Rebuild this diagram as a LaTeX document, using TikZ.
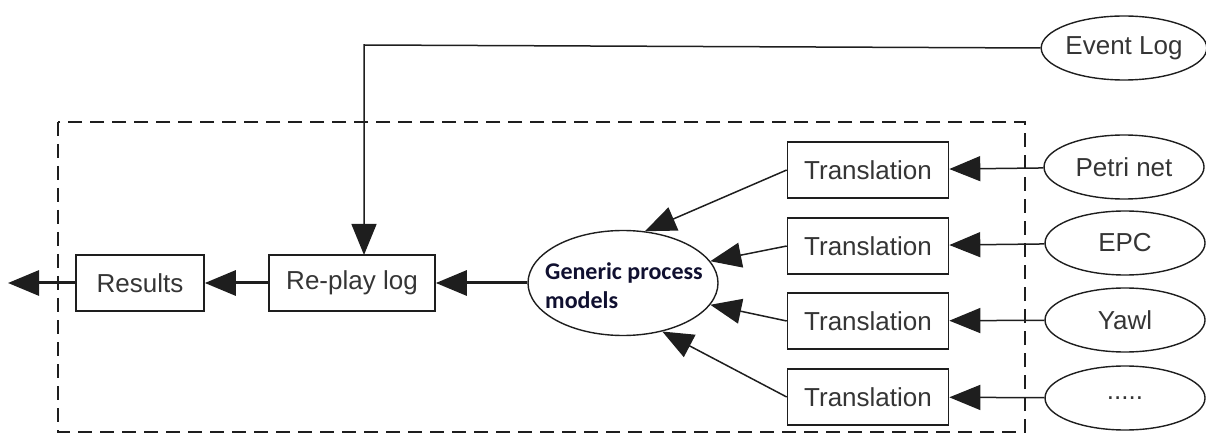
\documentclass[tikz,border=0pt]{standalone}
\usepackage{fontspec}
\setmainfont{Liberation Sans}
\newfontfamily\calib{Carlito}
\usetikzlibrary{arrows.meta,shapes.geometric}
\definecolor{ink}{HTML}{1E1E1E}
\definecolor{navy}{HTML}{101030}
\begin{document}
\begin{tikzpicture}[x=1pt,y=-1pt,
  box/.style={draw=ink,line width=1.6pt,rectangle,inner sep=0pt,
    minimum height=56pt,font=\fontsize{26}{29}\selectfont,text=ink!90},
  oval/.style={draw=ink,line width=1.4pt,ellipse,inner sep=0pt,
    minimum width=160pt,minimum height=64pt,font=\fontsize{26}{29}\selectfont,text=ink!90},
  thin/.style={draw=ink,line width=1.5pt,-{Triangle[length=31pt,width=25pt]}},
  thick/.style={draw=ink,line width=3pt,-{Triangle[length=31pt,width=25pt]}},
  frame/.style={draw=ink,line width=2.2pt,dash pattern=on 14pt off 8pt}]
\useasboundingbox (0,0) rectangle (1206,435);

% dashed boundary of the replay component
\draw[frame] (58,122) rectangle (1025,432);

% inputs
\node[oval] (ev) at (1124,48) {Event Log};
\node[oval] (pn) at (1124,167) {Petri net};
\node[oval] (epc) at (1125,243) {EPC};
\node[oval] (yawl) at (1125,320) {Yawl};
\node[oval] (more) at (1125,398) {.....};

% translations
\node[box,minimum width=161pt] (t1) at (868,170) {Translation};
\node[box,minimum width=161pt] (t2) at (868,246) {Translation};
\node[box,minimum width=161pt] (t3) at (868,321) {Translation};
\node[box,minimum width=161pt] (t4) at (868,397) {Translation};

% generic model
\node[draw=ink,line width=1.4pt,ellipse,inner sep=0pt,
  minimum width=190pt,minimum height=105pt] (g) at (623,283) {};
\node[font=\calib\bfseries\fontsize{24}{29}\selectfont,text=navy,
  align=left,inner sep=0pt] (gt) at (624,286) {Generic process\\models};

% replay and results
\node[box,minimum width=166pt] (rp) at (352,283) {Re-play log};
\node[box,minimum width=128pt] (res) at (140,283) {Results};
\coordinate (out) at (8,283);
\coordinate (evdrop) at (364,45);
\coordinate (evin) at (364,255);

% connectors
\draw[thin] (pn) -- (t1);
\draw[thin] (epc) -- (t2);
\draw[thin] (yawl) -- (t3);
\draw[thin] (more) -- (t4);
\draw[thin] (t1.west) -- (g.67);
\draw[thin] (t2.west) -- (g.14);
\draw[thin] (t3.west) -- (g.-14);
\draw[thin] (t4.west) -- (g.-51);
\draw[thin] (ev.west) -- (evdrop) -- (evin);
\draw[thick] (g) -- (rp);
\draw[thick] (rp) -- (res);
\draw[thick] (res) -- (out);
\end{tikzpicture}
\end{document}
